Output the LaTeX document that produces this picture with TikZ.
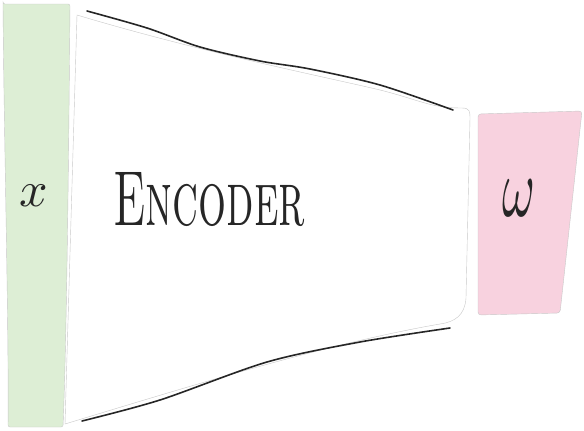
\documentclass[tikz,border=0pt]{standalone}
\usepackage{amsmath, amssymb}
\usepackage{xcolor}
\usepackage{tikz}
\usetikzlibrary{positioning, calc}
\definecolor{inputgreen}{RGB}{221, 238, 213}
\definecolor{codepink}{RGB}{248, 210, 223}
\definecolor{sketchgray}{RGB}{200, 200, 200}

\tikzset{
    sketch/.style={draw=sketchgray, line width=0.4pt},
    pen/.style={draw=black!85, line width=1.6pt, line cap=round},
    label/.style={inner sep=0pt, text=black!85}
}

\begin{document}
\begin{tikzpicture}[x=1pt, y=-1pt]
    \useasboundingbox (0,0) rectangle (584,431);

    % The Input Strip (x)
    \path[sketch, fill=inputgreen, rounded corners=2pt]
        (3,4) -- (70,4) .. controls (69,120) and (67,330) .. (63,427)
        -- (8,427) .. controls (9,330) and (4,140) .. cycle;

    % The Encoder Body (thin outline)
    \path[sketch, fill=white]
        (77,15) .. controls (200,52) and (330,78) .. (380,90)
        .. controls (420,100) and (430,108) .. (462,108)
        .. controls (470,108) and (470,112) .. (470,118)
        -- (466,298)
        .. controls (465,315) and (455,322) .. (440,324)
        .. controls (330,343) and (200,383) .. (65,424)
        -- cycle;

    % The Pen Strokes (top and bottom edges)
    \draw[pen] plot[smooth, tension=0.5] coordinates
        {(87,11) (147,28) (200,47) (260,61) (310,69) (380,85) (453,110)};
    \draw[pen] plot[smooth, tension=0.5] coordinates
        {(82,421) (160,400) (267,362) (360,342) (450,328)};

    % The Code Box (omega)
    \path[sketch, fill=codepink, rounded corners=3pt]
        (478,114) -- (582,111) -- (560,313) -- (478,315) -- cycle;

    % Labels
    \node[label] (input) at (34,196) {\scalebox{5}{$x$}};
    \node[label, anchor=base west] (encoder) at (113,225)
        {\resizebox{192pt}{53pt}{\textsc{Encoder}}};
    \node[label] (code) at (519,198) {\scalebox{5}[8.5]{$\omega$}};
\end{tikzpicture}
\end{document}
